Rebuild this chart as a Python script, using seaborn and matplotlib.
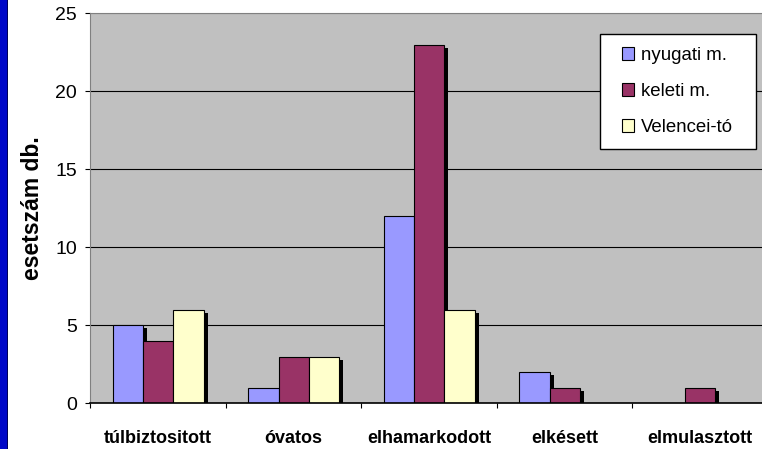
import matplotlib
matplotlib.use('Agg')
import matplotlib.pyplot as plt
import matplotlib.patheffects as pe
from matplotlib.patches import Rectangle, Patch
from matplotlib.legend_handler import HandlerPatch
import seaborn as sns
import pandas as pd

# --- data ---
categories = ['túlbiztositott', 'óvatos', 'elhamarkodott', 'elkésett', 'elmulasztott']
series = ['nyugati m.', 'keleti m.', 'Velencei-tó']
nyugati = [5, 1, 12, 2, 0]
keleti = [4, 3, 23, 1, 1]
velencei = [6, 3, 6, 0, 0]
colors = ['#9999FF', '#993366', '#FFFFCC']
y_ticks = [0, 5, 10, 15, 20, 25]

df = pd.DataFrame({
    'kategoria': categories * len(series),
    'terulet': [s for s in series for _ in categories],
    'esetszam': nyugati + keleti + velencei,
})

sns.set_theme(style='white')
plt.rcParams['font.family'] = ['Liberation Sans', 'DejaVu Sans']

W, H = 762, 449
fig = plt.figure(figsize=(W / 100, H / 100), dpi=100, facecolor='white')

# blue strip along the left edge
fig.add_artist(Rectangle((0, 0), 7 / W, 1, transform=fig.transFigure,
                         facecolor='#0008C8', edgecolor='none'))
fig.add_artist(Rectangle((7 / W, 0), 1.2 / W, 1, transform=fig.transFigure,
                         facecolor='#00005A', edgecolor='none'))

ax = fig.add_axes([90.4 / W, 45.7 / H, 677.6 / W, 390 / H])
ax.set_facecolor('#C0C0C0')

sns.barplot(data=df, x='kategoria', y='esetszam', hue='terulet',
            order=categories, hue_order=series, palette=colors,
            saturation=1, width=0.67, gap=0, edgecolor='black',
            linewidth=0.8, errorbar=None, legend=False, ax=ax)

# drop shadows behind the bars
shadow = [pe.SimplePatchShadow(offset=(2.9, -2.2), shadow_rgbFace='black', alpha=1),
          pe.Normal()]
for p in ax.patches:
    if p.get_height() == 0:
        p.set_visible(False)
    else:
        p.set_path_effects(shadow)

ax.set_ylim(0, 25)
ax.set_xlim(-0.5, len(categories) - 0.5)
ax.set_yticks(y_ticks)
ax.set_axisbelow(True)
ax.yaxis.grid(True, color='black', linewidth=0.8)
ax.xaxis.grid(False)
ax.yaxis.get_gridlines()[-1].set_color('#808080')

ax.tick_params(axis='y', left=True, length=3.6, width=0.8, color='black',
               pad=6, labelsize=14, labelcolor='black')
ax.set_xticks(range(len(categories)))
ax.set_xticklabels(categories, fontweight='bold', fontsize=13, color='black')
ax.tick_params(axis='x', which='major', bottom=False, length=0, pad=19)
ax.set_xticks([i - 0.5 for i in range(len(categories) + 1)], minor=True)
ax.tick_params(axis='x', which='minor', bottom=True, length=3.6, width=0.8,
               color='black')

ax.spines['right'].set_visible(False)
ax.spines['top'].set_color('#808080')
ax.spines['top'].set_linewidth(0.8)
ax.spines['left'].set_color('#808080')
ax.spines['left'].set_linewidth(0.8)
ax.spines['bottom'].set_color('black')
ax.spines['bottom'].set_linewidth(1.2)

ax.set_xlabel('')
ax.set_ylabel('esetszám db.', fontsize=16.5, fontweight='bold', color='black')
ax.yaxis.set_label_coords(-0.069, 0.5)

# legend with small square keys
handles = [Patch(facecolor=c, edgecolor='black', linewidth=0.8) for c in colors]

side_pt = 12.6 * 0.72


def square_key(legend, orig_handle, xdescent, ydescent, width, height, fontsize):
    return Rectangle((-xdescent + width - side_pt, -ydescent + (height - side_pt) / 2),
                     side_pt, side_pt)


leg = ax.legend(handles, series, loc='upper left', mode='expand',
                bbox_to_anchor=(600 / W, 1 - 33.7 / H, 155.7 / W, 0),
                bbox_transform=fig.transFigure, borderaxespad=0,
                fontsize=13.4, handlelength=1.14, handleheight=0.7,
                handletextpad=0.36, borderpad=0.70, labelspacing=1.03,
                frameon=True, fancybox=False, shadow=False,
                facecolor='white', edgecolor='black', framealpha=1,
                handler_map={Patch: HandlerPatch(patch_func=square_key)})
leg.get_frame().set_linewidth(1.0)
for t in leg.get_texts():
    t.set_color('black')

fig.savefig('out.png', dpi=100)
